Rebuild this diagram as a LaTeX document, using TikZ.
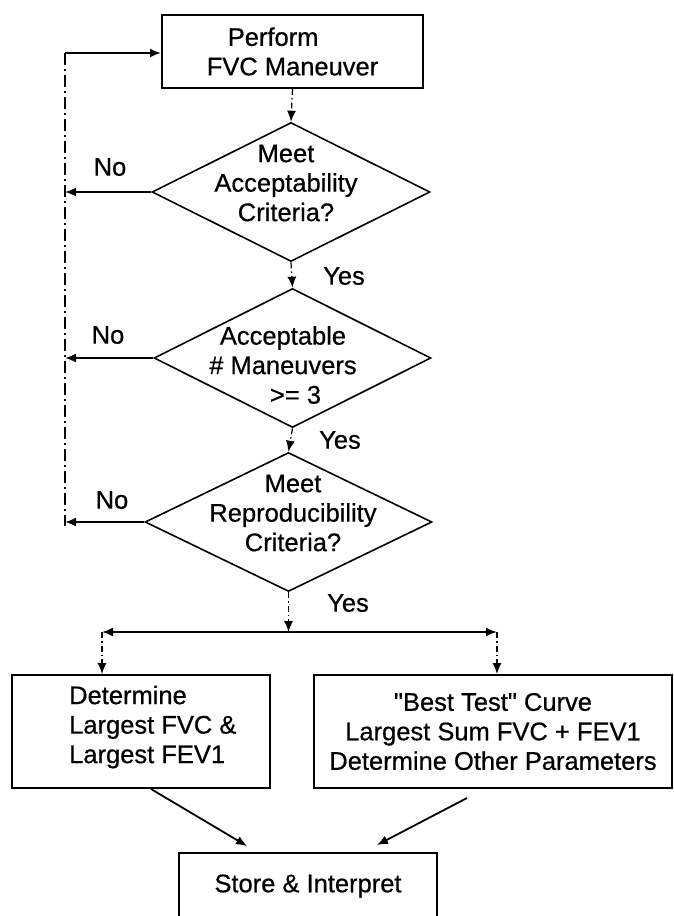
\documentclass[tikz,border=0pt]{standalone}
\usepackage{fontspec}
\setmainfont{Liberation Sans}[Ligatures=TeXOff]
\newfontfamily\diafont{Liberation Sans}[FakeBold=0.6,Ligatures=TeXOff]
\usetikzlibrary{shapes.geometric,arrows.meta}
\begin{document}
\begin{tikzpicture}[x=1pt,y=-1pt,
  every node/.style={font=\diafont\fontsize{25.5}{29.5}\selectfont},
  boxn/.style={draw,line width=2pt,inner sep=0pt,align=center},
  dia/.style={draw,diamond,line width=1.6pt,inner sep=0pt},
  lbl/.style={inner sep=0pt},
  arr/.style={line width=1.8pt,-{Latex[length=11pt,width=9pt]}},
  varr/.style={line width=1.2pt,dash pattern=on 6pt off 3pt on 1.5pt off 3pt,-{Latex[length=11pt,width=9pt]}},
  loopline/.style={line width=1.2pt,dash pattern=on 12pt off 4pt on 2pt off 4pt}]
\useasboundingbox (0,0) rectangle (674,916);

% boxes
\node[boxn,minimum width=261pt,minimum height=73pt,align=left] (b1) at (292.5,51.5) {\hspace*{21pt}Perform\\FVC Maneuver};
\node[boxn,minimum width=258pt,minimum height=113pt] (b2) at (141,731.5) {};
\node[lbl,align=left,anchor=west] (t2) at (69,727) {Determine\\Largest FVC \&\\Largest FEV1};
\node[boxn,minimum width=358pt,minimum height=113pt] (b3) at (493,731.5) {"Best Test" Curve\\Largest Sum FVC + FEV1\\Determine Other Parameters};
\node[boxn,minimum width=258pt,minimum height=66pt] (b4) at (308,886) {Store \& Interpret};

% diamonds
\node[dia,minimum width=278pt,minimum height=139pt] (d1) at (291,192) {};
\node[lbl,align=center] (t3) at (286,183) {Meet\\Acceptability\\Criteria?};
\node[dia,minimum width=277pt,minimum height=139pt] (d2) at (292.5,358) {};
\node[lbl,align=center] (t4) at (283,365) {Acceptable\\\# Maneuvers\\\hspace*{25pt}>= 3};
\node[dia,minimum width=287pt,minimum height=139pt] (d3) at (288.5,522) {};
\node[lbl,align=center] (t5) at (293,513) {Meet\\Reproducibility\\Criteria?};

% labels
\node[lbl] (no1) at (110,167) {No};
\node[lbl] (no2) at (108,335) {No};
\node[lbl] (no3) at (112,500) {No};
\node[lbl] (yes1) at (344,276) {Yes};
\node[lbl] (yes2) at (340,440) {Yes};
\node[lbl] (yes3) at (348,603) {Yes};

% loop back line
\coordinate (lt) at (65,53);
\coordinate (lb) at (65,526);
\draw[loopline] (lt) -- (lb);
\draw[arr] (lt) -- (lt -| b1.west);
\draw[arr] (d1.west) -- (d1.west -| lt);
\draw[arr] (d2.west) -- (d2.west -| lt);
\draw[arr] (d3.west) -- (d3.west -| lt);

% main flow
\draw[varr] (b1.south) -- (d1.north);
\draw[varr] (d1.south) -- (d2.north);
\draw[varr] (d2.south) -- (d3.north);

% branch
\coordinate (jm) at (288.5,632);
\coordinate (jl) at (102,632);
\coordinate (jr) at (497,632);
\draw[varr] (d3.south) -- (jm);
\draw[arr] (jm) -- (jl);
\draw[arr] (jm) -- (jr);
\draw[varr] (jl) -- (jl |- b2.north);
\draw[varr] (jr) -- (jr |- b3.north);

% to store
\draw[arr] ([xshift=10pt]b2.south) -- ([xshift=-61pt,yshift=6pt]b4.north);
\draw[arr] ([xshift=-26pt,yshift=-9pt]b3.south) -- ([xshift=69pt,yshift=7pt]b4.north);
\end{tikzpicture}
\end{document}
